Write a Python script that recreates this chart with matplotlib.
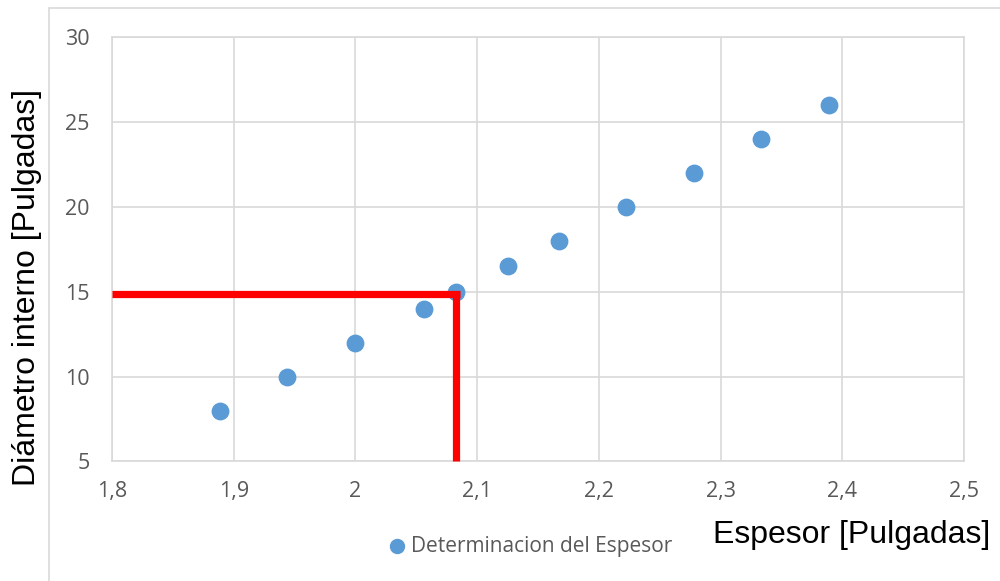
import matplotlib.pyplot as plt
from matplotlib.patches import Rectangle

# Thickness vs. internal diameter, both in inches
espesor = [1.889, 1.944, 2.0, 2.056, 2.083, 2.125, 2.167, 2.222, 2.278, 2.333, 2.389]
diametro = [8, 10, 12, 14, 15, 16.5, 18, 20, 22, 24, 26]

# Reading lines for the chosen design point
lectura_x = 2.083
lectura_y = 14.85

x_ticks = [1.8, 1.9, 2.0, 2.1, 2.2, 2.3, 2.4, 2.5]
x_tick_labels = ["1,8", "1,9", "2", "2,1", "2,2", "2,3", "2,4", "2,5"]
y_ticks = [5, 10, 15, 20, 25, 30]

GRID = "#D9D9D9"
TICK = "#595959"
BLUE = "#5B9BD5"

fig = plt.figure(figsize=(10, 5.81), dpi=100)
fig.patches.append(Rectangle((0.049, -0.1), 1.0, 1.086, transform=fig.transFigure,
                             fill=False, edgecolor=GRID, linewidth=1.2))

ax = fig.add_axes([0.112, 0.2057, 0.852, 0.7306])
ax.scatter(espesor, diametro, s=140, color=BLUE, zorder=3,
           label="Determinacion del Espesor")
ax.plot([1.8, lectura_x + 0.003], [lectura_y, lectura_y], color="red",
        linewidth=5.2, solid_capstyle="butt", zorder=4)
ax.plot([lectura_x, lectura_x], [5, lectura_y + 0.2], color="red",
        linewidth=5.2, solid_capstyle="butt", zorder=4, clip_on=False)

ax.set_xlim(1.8, 2.5)
ax.set_ylim(5, 30)
ax.set_xticks(x_ticks)
ax.set_xticklabels(x_tick_labels)
ax.set_yticks(y_ticks)
ax.grid(True, color=GRID, linewidth=1.2)
ax.set_axisbelow(True)
for sp in ax.spines.values():
    sp.set_color(GRID)
    sp.set_linewidth(1.2)
ax.tick_params(length=0, labelsize=15.5, labelcolor=TICK)
ax.tick_params(axis="y", pad=16)
ax.tick_params(axis="x", pad=14)
for lbl in ax.get_xticklabels() + ax.get_yticklabels():
    lbl.set_fontfamily("Open Sans")

fig.text(0.027, 0.505, "Diámetro interno [Pulgadas]", rotation=90, ha="center",
         va="center", fontsize=23, family="Liberation Sans")
fig.text(0.990, 0.079, "Espesor [Pulgadas]", ha="right", va="center",
         fontsize=23, family="Liberation Sans")

leg = fig.legend(loc="center", bbox_to_anchor=(0.524, 0.06), frameon=False,
                 handletextpad=-0.3, markerscale=0.85,
                 prop={"family": "Open Sans", "size": 15})
for t in leg.get_texts():
    t.set_color(TICK)

fig.savefig("out.png", dpi=100)
